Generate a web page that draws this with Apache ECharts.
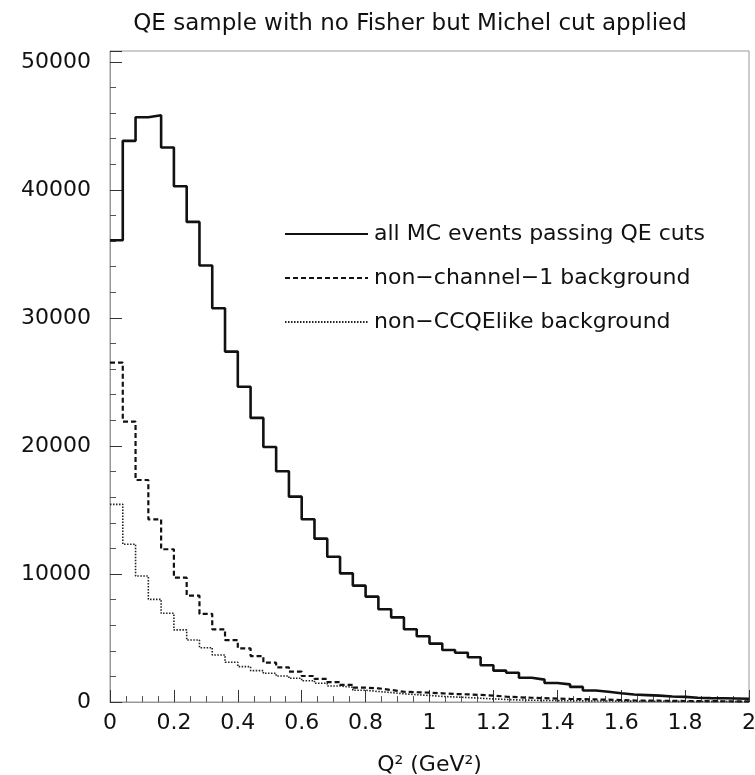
<!DOCTYPE html>
<html>
<head>
<meta charset="utf-8">
<script src="https://cdn.jsdelivr.net/npm/echarts@6/dist/echarts.min.js"></script>
<style>
html,body{margin:0;padding:0;background:#fff;}
#chart{width:755px;height:775px;}
</style>
</head>
<body>
<div id="chart"></div>
<script>
// Histogram: 50 bins from 0 to 2 GeV^2
const binLow = 0;
const binWidth = 0.04;
const seriesNames = ['all MC events passing QE cuts', 'non\u2212channel\u22121 background', 'non\u2212CCQElike background'];
const allMC = [36070, 43830, 45680, 45830, 43310, 40290, 37500, 34090, 30760, 27370,
  24630, 22190, 19920, 18020, 16040, 14270, 12760, 11350, 10050, 9090,
  8230, 7240, 6610, 5680, 5130, 4560, 4060, 3850, 3490, 2870,
  2450, 2290, 1900, 1750, 1480, 1380, 1180, 900, 800, 680,
  580, 540, 500, 430, 400, 330, 300, 290, 270, 250];
const nonChannel1 = [26510, 21900, 17340, 14270, 11930, 9710, 8310, 6880, 5680, 4840,
  4190, 3590, 3070, 2710, 2370, 2030, 1800, 1560, 1330, 1120,
  1070, 940, 800, 760, 730, 680, 625, 600, 550, 500,
  420, 370, 330, 300, 270, 240, 220, 200, 180, 150,
  120, 110, 100, 90, 80, 70, 65, 60, 55, 50];
const nonCCQElike = [15440, 12320, 9840, 8020, 6930, 5630, 4840, 4240, 3670, 3100,
  2760, 2450, 2240, 2030, 1850, 1660, 1460, 1250, 1150, 920,
  820, 740, 640, 570, 510, 440, 390, 350, 290, 240,
  200, 160, 140, 120, 110, 100, 90, 80, 75, 70,
  65, 60, 55, 50, 45, 40, 40, 35, 30, 30];
const xTicks = ['0', '0.2', '0.4', '0.6', '0.8', '1', '1.2', '1.4', '1.6', '1.8', '2'];
const yTicks = ['0', '10000', '20000', '30000', '40000', '50000'];

function stepData(vals) {
  const d = vals.map((v, i) => [+(binLow + i * binWidth).toFixed(4), v]);
  d.push([+(binLow + vals.length * binWidth).toFixed(4), vals[vals.length - 1]]);
  return d;
}

const FONT = 'DejaVu Sans';
const chart = echarts.init(document.getElementById('chart'), null, {renderer: 'canvas'});
chart.setOption({
  animation: false,
  backgroundColor: '#fff',
  title: {
    text: 'QE sample with no Fisher but Michel cut applied',
    left: 405, top: 8, textAlign: 'center',
    textStyle: {fontFamily: FONT, fontSize: 23, fontWeight: 'normal', color: '#111'}
  },
  grid: {left: 110, right: 6, top: 51, bottom: 73, outerBoundsMode: 'none', containLabel: false,
    show: true, borderColor: '#999', borderWidth: 1, backgroundColor: 'transparent'},
  legend: {
    orient: 'vertical', left: 284, top: 222, padding: 0,
    itemWidth: 83, itemHeight: 14, itemGap: 20,
    itemStyle: {opacity: 0},
    textStyle: {fontFamily: FONT, fontSize: 22, lineHeight: 24, color: '#111', padding: [0, 0, 0, 1]},
    data: seriesNames
  },
  xAxis: {
    type: 'value', min: 0, max: 2, interval: 0.2,
    name: 'Q\u00B2 (GeV\u00B2)', nameLocation: 'middle', nameGap: 52,
    nameTextStyle: {fontFamily: FONT, fontSize: 22, color: '#111'},
    axisLine: {show: true, onZero: false, lineStyle: {color: '#999', width: 1}},
    axisTick: {show: true, inside: true, length: 12, lineStyle: {color: '#333', width: 1}},
    minorTick: {show: true, splitNumber: 4, length: 6, lineStyle: {color: '#555', width: 1}},
    splitLine: {show: false},
    axisLabel: {fontFamily: FONT, fontSize: 22, color: '#111', margin: 10,
      formatter: function (v) { const i = Math.round(v / 0.2); return xTicks[i] !== undefined ? xTicks[i] : ''; }}
  },
  yAxis: {
    type: 'value', min: 0, max: 50850, interval: 10000,
    axisLine: {show: true, lineStyle: {color: '#999', width: 1}},
    axisTick: {show: true, inside: true, length: 12, lineStyle: {color: '#333', width: 1}},
    minorTick: {show: true, splitNumber: 5, length: 6, lineStyle: {color: '#555', width: 1}},
    splitLine: {show: false},
    axisLabel: {fontFamily: FONT, fontSize: 22, color: '#111', margin: 19, showMaxLabel: false,
      formatter: function (v) { const i = Math.round(v / 10000); return (Math.abs(v - i * 10000) < 1 && yTicks[i] !== undefined) ? yTicks[i] : ''; }}
  },
  series: [
    {name: seriesNames[0], type: 'line', step: 'end', symbol: 'none', data: stepData(allMC),
     lineStyle: {color: '#111', width: 2.6, type: 'solid'}, itemStyle: {color: '#111'}},
    {name: seriesNames[1], type: 'line', step: 'end', symbol: 'none', data: stepData(nonChannel1),
     lineStyle: {color: '#111', width: 2.2, type: [5, 3]}, itemStyle: {color: '#111'}},
    {name: seriesNames[2], type: 'line', step: 'end', symbol: 'none', data: stepData(nonCCQElike),
     lineStyle: {color: '#222', width: 1.6, type: [1.5, 1.5]}, itemStyle: {color: '#222'}}
  ]
});
</script>
</body>
</html>
